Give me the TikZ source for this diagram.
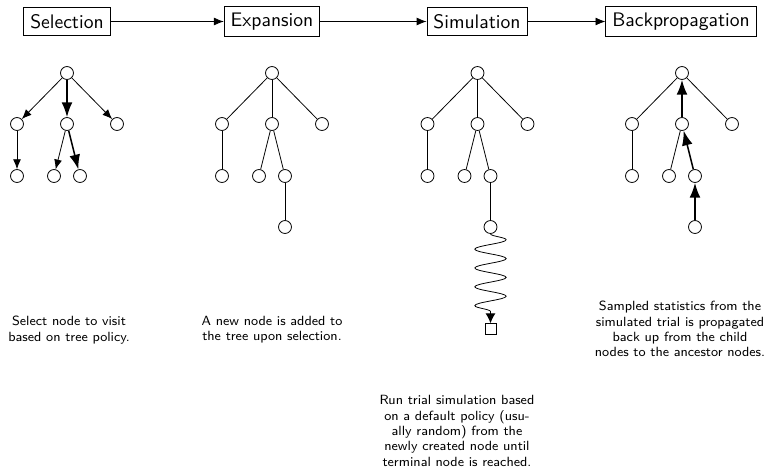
\documentclass[tikz,border=0pt]{standalone}
\usetikzlibrary{arrows.meta, decorations.pathmorphing}

\begin{document}
\begin{tikzpicture}[x=0.51pt, y=0.51pt, >={Latex[length=5pt, width=4pt]}]
		\useasboundingbox (0,0) rectangle (766,-472);
		% stages
		\begin{scope}[every node/.style={draw, font=\sffamily, inner sep=3.33pt}]
			\node (sel) at (67,-21.5) {Selection};
			\node (exp) at (272,-21.5) {Expansion};
			\node (sim) at (477,-21.5) {Simulation};
			\node (back) at (681,-21.5) {Backpropagation};
		\end{scope}
		\path [->] (sel.east) edge (exp.west);
		\path [->] (exp.east) edge (sim.west);
		\path [->] (sim.east) edge (back.west);
		% trees
		\begin{scope}[every node/.style={draw, circle, minimum size=6.6pt, inner sep=0pt}]
			\foreach \t/\x in {s/67, e/272, m/477.5, b/682} {
				\node (\t-r) at (\x,-73) {};
				\node (\t-c1) at (\x-50,-124) {};
				\node (\t-c2) at (\x,-124) {};
				\node (\t-c3) at (\x+50,-124) {};
				\node (\t-g1) at (\x-50,-176) {};
				\node (\t-g2) at (\x-13,-176) {};
				\node (\t-g3) at (\x+13,-176) {};
			}
			\node (e-n) at (285,-227) {};
			\node (m-n) at (490.5,-227) {};
			\node (b-n) at (695,-227) {};
		\end{scope}
		\node (m-t) [draw, minimum size=5.5pt, inner sep=0pt] at (490.5,-329) {};
		% selection
		\path [->] (s-r) edge (s-c1);
		\path [->] (s-r) edge[thick, >={Latex[length=7.5pt, width=5.5pt]}] (s-c2);
		\path [->] (s-r) edge (s-c3);
		\path [->] (s-c1) edge (s-g1);
		\path [->] (s-c2) edge (s-g2);
		\path [->] (s-c2) edge[thick, >={Latex[length=7.5pt, width=5.5pt]}] (s-g3);
		% expansion and simulation
		\foreach \t in {e, m} {
			\path [-] (\t-r) edge (\t-c1);
			\path [-] (\t-r) edge (\t-c2);
			\path [-] (\t-r) edge (\t-c3);
			\path [-] (\t-c1) edge (\t-g1);
			\path [-] (\t-c2) edge (\t-g2);
			\path [-] (\t-c2) edge (\t-g3);
			\path [-] (\t-g3) edge (\t-n);
		}
		\draw [-{Latex[length=5pt, width=5pt]}, decorate, decoration={snake, amplitude=8pt, segment length=9.6pt, post length=5pt}] (m-n) -- (m-t);
		% backpropagation
		\path [-] (b-r) edge (b-c1);
		\path [<-] (b-r) edge[thick, >={Latex[length=7.5pt, width=5.5pt]}] (b-c2);
		\path [-] (b-r) edge (b-c3);
		\path [-] (b-c1) edge (b-g1);
		\path [-] (b-c2) edge (b-g2);
		\path [<-] (b-c2) edge[thick, >={Latex[length=7.5pt, width=5.5pt]}] (b-g3);
		\path [<-] (b-g3) edge[thick, >={Latex[length=7.5pt, width=5.5pt]}] (b-n);
		% captions
		\begin{scope}[every node/.style={font=\sffamily\fontsize{6.8}{7.8}\selectfont, align=center}]
			\node (s-txt) at (69,-330) {Select node to visit\\based on tree policy.};
			\node (e-txt) at (272,-330) {A new node is added to\\the tree upon selection.};
			\node (m-txt) at (457,-431) {Run trial simulation based\\on a default policy (usu-\\ally random) from the\\newly created node until\\terminal node is reached.};
			\node (b-txt) at (680,-329) {Sampled statistics from the\\simulated trial is propagated\\back up from the child\\nodes to the ancestor nodes.};
		\end{scope}
	\end{tikzpicture}
\end{document}
